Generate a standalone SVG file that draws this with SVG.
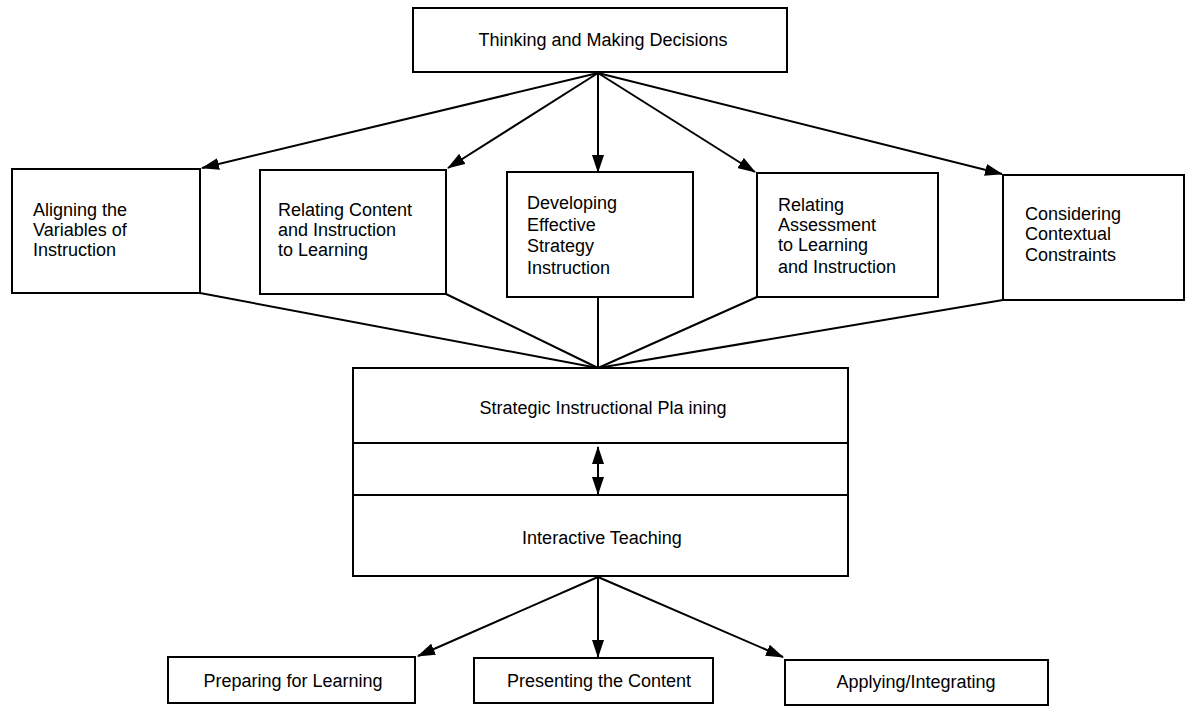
<svg xmlns="http://www.w3.org/2000/svg" width="1186" height="709" viewBox="0 0 1186 709">
<style>
.box{fill:#fff;stroke:#000;stroke-width:2}
.ln{fill:none;stroke:#000;stroke-width:2}
.arr{fill:none;stroke:#000;stroke-width:2;marker-end:url(#ah)}
text{font-family:"Liberation Sans",Arial,sans-serif;font-size:18px;fill:#000}
.c{text-anchor:middle}
</style>
<defs>
<marker id="ah" markerUnits="userSpaceOnUse" markerWidth="18" markerHeight="12" refX="17" refY="6" orient="auto-start-reverse" viewBox="0 0 18 12">
<path d="M0,0 L18,6 L0,12 z" fill="#000"/>
</marker>
</defs>
<rect width="1186" height="709" fill="#fff"/>
<g id="connectors">
<line class="arr" x1="598" y1="73" x2="202" y2="168"/>
<line class="arr" x1="598" y1="73" x2="448" y2="168"/>
<line class="arr" x1="598" y1="73" x2="598" y2="172"/>
<line class="arr" x1="598" y1="73" x2="755" y2="172"/>
<line class="arr" x1="598" y1="73" x2="1002" y2="174"/>
<line class="ln" x1="200" y1="293" x2="598" y2="368"/>
<line class="ln" x1="446" y1="294" x2="598" y2="368"/>
<line class="ln" x1="598" y1="297" x2="598" y2="368"/>
<line class="ln" x1="757" y1="297" x2="598" y2="368"/>
<line class="ln" x1="1003" y1="300" x2="598" y2="368"/>
<line class="arr" x1="598" y1="577" x2="418" y2="656"/>
<line class="arr" x1="598" y1="577" x2="598" y2="657"/>
<line class="arr" x1="598" y1="577" x2="783" y2="657"/>
</g>
<g id="top">
<rect class="box" x="413" y="8" width="374" height="64"/>
<text class="c" x="603" y="46">Thinking and Making Decisions</text>
</g>
<g id="aligning">
<rect class="box" x="12" y="169" width="188" height="124"/>
<text x="33" y="216">Aligning the</text>
<text x="33" y="236">Variables of</text>
<text x="33" y="256">Instruction</text>
</g>
<g id="relating-content">
<rect class="box" x="260" y="170" width="186" height="124"/>
<text x="278" y="216">Relating Content</text>
<text x="278" y="236">and Instruction</text>
<text x="278" y="256">to Learning</text>
</g>
<g id="developing">
<rect class="box" x="507" y="172" width="186" height="125"/>
<text x="527" y="209">Developing</text>
<text x="527" y="231">Effective</text>
<text x="527" y="252">Strategy</text>
<text x="527" y="274">Instruction</text>
</g>
<g id="relating-assessment">
<rect class="box" x="757" y="173" width="181" height="124"/>
<text x="778" y="211">Relating</text>
<text x="778" y="231">Assessment</text>
<text x="778" y="251">to Learning</text>
<text x="778" y="273">and Instruction</text>
</g>
<g id="considering">
<rect class="box" x="1003" y="175" width="181" height="125"/>
<text x="1025" y="220">Considering</text>
<text x="1025" y="240">Contextual</text>
<text x="1025" y="261">Constraints</text>
</g>
<g id="central">
<rect class="box" x="353" y="368" width="495" height="208"/>
<line class="ln" x1="353" y1="443" x2="848" y2="443"/>
<line class="ln" x1="353" y1="495" x2="848" y2="495"/>
<text class="c" x="603" y="414">Strategic Instructional Pla ining</text>
<text class="c" x="602" y="544">Interactive Teaching</text>
<line class="ln" x1="598" y1="447" x2="598" y2="494" marker-start="url(#ah)" marker-end="url(#ah)"/>
</g>
<g id="preparing">
<rect class="box" x="168" y="657" width="247" height="46"/>
<text class="c" x="293" y="687">Preparing for Learning</text>
</g>
<g id="presenting">
<rect class="box" x="474" y="658" width="239" height="45"/>
<text class="c" x="599" y="687">Presenting the Content</text>
</g>
<g id="applying">
<rect class="box" x="785" y="660" width="263" height="45"/>
<text class="c" x="916" y="688">Applying/Integrating</text>
</g>
</svg>
